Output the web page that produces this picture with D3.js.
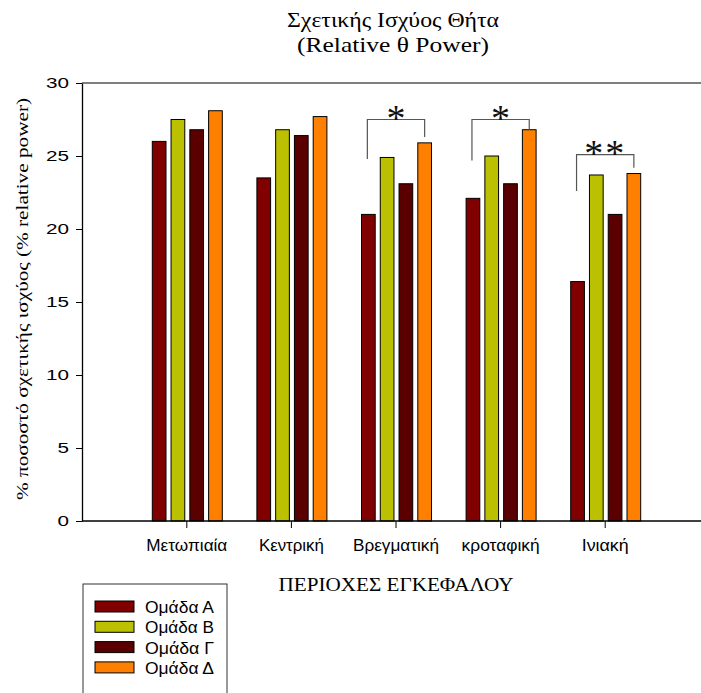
<!DOCTYPE html>
<html><head><meta charset="utf-8">
<script src="https://cdn.jsdelivr.net/npm/d3@7"></script>
<style>body{margin:0;background:#fff}svg{display:block}</style>
</head><body>
<script>
const categories = ["Μετωπιαία","Κεντρική","Βρεγματική","κροταφική","Ινιακή"];
const seriesNames = ["Ομάδα Α","Ομάδα Β","Ομάδα Γ","Ομάδα Δ"];
const seriesColors = ["#800000","#bbc000","#5a0000","#ff8000"];
const groupA = [26.0,23.5,21.0,22.1,16.4];
const groupB = [27.5,26.8,24.9,25.0,23.7];
const groupG = [26.8,26.4,23.1,23.1,21.0];
const groupD = [28.1,27.7,25.9,26.8,23.8];
const yTicks = [0,5,10,15,20,25,30];
// significance brackets
const bracketCats = ["Βρεγματική","κροταφική","Ινιακή"];
const bracketTop = [27.5,27.5,25.1];
const bracketLeftEnd = [24.8,24.7,22.6];
const bracketRightEnd = [26.3,26.8,24.2];
const bracketLabels = ["*","*","**"];

(function(){
const W=701,H=693;
const serif="Liberation Serif, Times New Roman, serif";
const sans="Liberation Sans, Arial, sans-serif";
const svg=d3.select("body").append("svg").attr("width",W).attr("height",H);
const pL=82,pT=83,pB=521,pR=701;
const y=d3.scaleLinear().domain([0,30]).range([pB,pT]);
const x=d3.scaleBand().domain(categories).range([134.5,657.5]);
const xs=d3.scaleBand().domain(seriesNames).range([-34.5,35.5]).paddingInner(0.27);
const series=[groupA,groupB,groupG,groupD];

// title
svg.append("text").attr("x",393).attr("y",27).attr("text-anchor","middle")
  .attr("font-family",serif).attr("font-size",21).attr("textLength",212).attr("lengthAdjust","spacingAndGlyphs").text("Σχετικής Ισχύος Θήτα");
svg.append("text").attr("x",393).attr("y",52).attr("text-anchor","middle")
  .attr("font-family",serif).attr("font-size",21).attr("textLength",192).attr("lengthAdjust","spacingAndGlyphs").text("(Relative θ Power)");

// bars
const g=svg.append("g");
categories.forEach((c,i)=>{
  series.forEach((s,j)=>{
    g.append("rect")
      .attr("x",x(c)+x.bandwidth()/2+xs(seriesNames[j]))
      .attr("y",y(s[i]))
      .attr("width",xs.bandwidth())
      .attr("height",y(0)-y(s[i]))
      .attr("fill",seriesColors[j]).attr("stroke","#000").attr("stroke-width",1);
  });
});

// y axis
const yAxis=d3.axisLeft(y).tickValues(yTicks).tickSize(6).tickSizeOuter(0).tickPadding(7);
const ya=svg.append("g").attr("transform",`translate(${pL},0)`).call(yAxis);
ya.selectAll("text").attr("font-family",sans).attr("font-size",15).attr("fill","#000")
  .attr("textLength",d=>String(d).length*11.5).attr("lengthAdjust","spacingAndGlyphs");
ya.selectAll("line").attr("stroke","#000");
ya.select(".domain").attr("stroke","#000").attr("stroke-width",1.3);
// x axis
const catWidths={"Μετωπιαία":81,"Κεντρική":65,"Βρεγματική":86,"κροταφική":78,"Ινιακή":47};
const xAxis=d3.axisBottom(x).tickSize(7).tickSizeOuter(0).tickPadding(12);
const xa=svg.append("g").attr("transform",`translate(0,${pB})`).call(xAxis);
xa.select(".domain").remove();
xa.selectAll("text").attr("font-family",sans).attr("font-size",16).attr("fill","#000")
  .attr("textLength",d=>catWidths[d]).attr("lengthAdjust","spacingAndGlyphs");
svg.append("line").attr("x1",pL).attr("x2",pR).attr("y1",pB).attr("y2",pB).attr("stroke","#000").attr("stroke-width",1.5);
svg.append("line").attr("x1",pL).attr("x2",pR).attr("y1",pT).attr("y2",pT).attr("stroke","#000").attr("stroke-width",1.2);

// axis titles
svg.append("text").attr("x",396).attr("y",591).attr("text-anchor","middle")
  .attr("font-family",serif).attr("font-size",18).attr("textLength",235).attr("lengthAdjust","spacingAndGlyphs").text("ΠΕΡΙΟΧΕΣ ΕΓΚΕΦΑΛΟΥ");
svg.append("text").attr("transform",`translate(28,299) rotate(-90)`).attr("text-anchor","middle")
  .attr("font-family",serif).attr("font-size",17).attr("textLength",402).attr("lengthAdjust","spacingAndGlyphs").text("% ποσοστό σχετικής ισχύος (% relative power)");

// brackets
bracketCats.forEach((c,i)=>{
  const cx=x(c)+x.bandwidth()/2;
  const x1=cx+xs(seriesNames[0])+xs.bandwidth()/2-1;
  const x2=cx+xs(seriesNames[3])+xs.bandwidth()/2;
  svg.append("path")
    .attr("d",`M${x1},${y(bracketLeftEnd[i])}V${y(bracketTop[i])}H${x2}V${y(bracketRightEnd[i])}`)
    .attr("fill","none").attr("stroke","#555").attr("stroke-width",1.2);
  svg.append("text").attr("x",(x1+x2)/2).attr("y",y(bracketTop[i])+11).attr("text-anchor","middle")
    .attr("font-family",serif).attr("font-size",38).attr("fill","#111")
    .attr("letter-spacing",bracketLabels[i].length>1?2:0)
    .text(bracketLabels[i]);
});

// legend
const lg=svg.append("g");
lg.append("rect").attr("x",83).attr("y",584).attr("width",144).attr("height",130).attr("fill","#fff").attr("stroke","#333").attr("stroke-width",1);
seriesNames.forEach((n,j)=>{
  const yy=601+j*20.3;
  lg.append("rect").attr("x",95).attr("y",yy).attr("width",39).attr("height",11).attr("fill",seriesColors[j]).attr("stroke","#000");
  lg.append("text").attr("x",145).attr("y",yy+12).attr("font-family",sans).attr("font-size",16)
    .attr("textLength",69).attr("lengthAdjust","spacingAndGlyphs").text(n);
});
})();
</script>
</body></html>
